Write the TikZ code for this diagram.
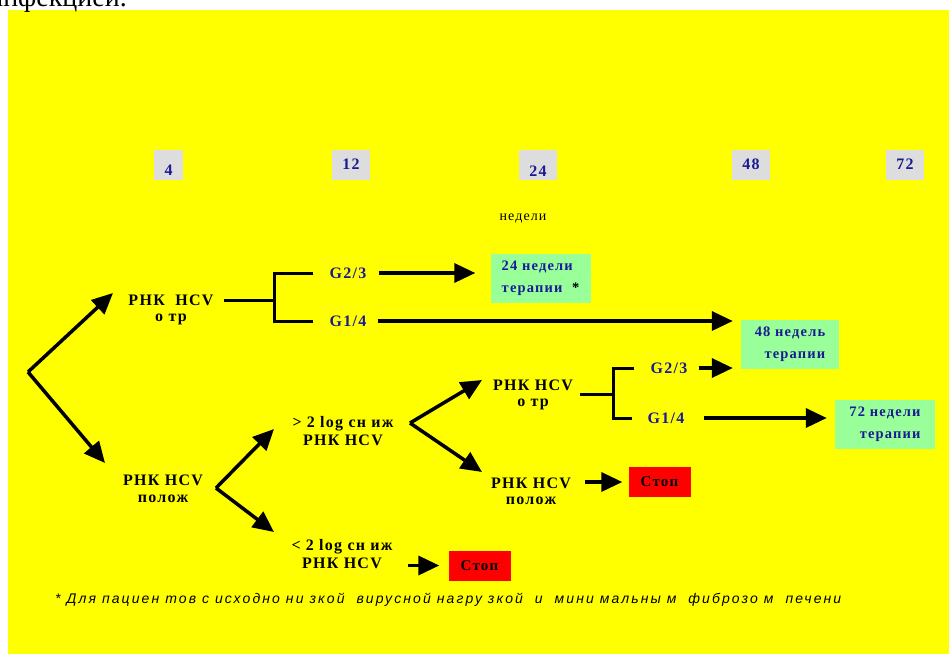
\documentclass[tikz,border=0pt]{standalone}
\usepackage{fontspec}
\setmainfont{Liberation Serif}
\setsansfont{Liberation Sans}
\newfontfamily\spacedserif[LetterSpace=8]{Liberation Serif}
\newfontfamily\spacedsans[LetterSpace=15]{Liberation Sans}
\usetikzlibrary{arrows.meta}
\definecolor{bgyellow}{RGB}{255,255,0}
\definecolor{weekgrey}{RGB}{221,221,221}
\definecolor{therapygreen}{RGB}{153,255,153}
\definecolor{stopred}{RGB}{255,0,0}
\definecolor{labelblue}{RGB}{26,26,150}

\begin{document}
\begin{tikzpicture}[x=1pt, y=-1pt,
    arr/.style={-{Triangle[length=21pt,width=19pt]}, line width=3.5pt},
    bracket/.style={line width=3pt},
    txt/.style={font=\spacedserif\bfseries\fontsize{16}{16}\selectfont, align=center, inner sep=0pt},
    geno/.style={txt, text=labelblue},
    week/.style={fill=weekgrey, minimum width=38pt, minimum height=30pt, inner sep=0pt, text=labelblue, font=\spacedserif\bfseries\fontsize{16}{16}\selectfont},
    therapy/.style={fill=therapygreen, minimum width=100pt, minimum height=49pt, inner sep=0pt, text=labelblue, font=\spacedserif\bfseries\fontsize{14.5}{22}\selectfont},
    stopbox/.style={fill=stopred, minimum width=62pt, minimum height=30pt, inner sep=0pt, font=\spacedserif\bfseries\fontsize{15}{16}\selectfont}]
    % Page and background
    \useasboundingbox (0,0) rectangle (949,654);
    \fill[bgyellow] (8,10) rectangle (949,654);
    \node[anchor=base east, inner sep=0pt, font=\fontsize{28}{30}\selectfont] (head) at (127,6) {инфекцией.};

    % Weeks
    \node[week, minimum width=29pt] (w4) at (168.5,165) {\raisebox{-10pt}[0pt][0pt]{4}};
    \node[week] (w12) at (351,164.5) {12};
    \node[week] (w24) at (538,165) {\raisebox{-11pt}[0pt][0pt]{24}};
    \node[week] (w48) at (751,164.5) {48};
    \node[week] (w72) at (905,164.5) {72};
    \node[font=\spacedserif\fontsize{14}{15}\selectfont, inner sep=0pt] (weeks) at (523,219) {недели};

    % Start of the scheme
    \coordinate (root) at (28,372);
    \coordinate (up1) at (113,293);
    \coordinate (dn1) at (105,463);
    \draw[arr] (root) -- (up1);
    \draw[arr] (root) -- (dn1);

    % Negative at week 4
    \node[txt] (neg1) at (171,310) {РНК\ \ HCV\\о тр};
    \coordinate (fork1) at (274,300);
    \node[geno] (g23a) at (348,273) {G2/3};
    \node[geno] (g14a) at (348,321) {G1/4};
    \node[therapy, align=left] (t24) at (540.5,278.5) {24 недели\\терапии\ \ {\color{black}*}};
    \node[therapy, minimum width=98pt, align=right] (t48) at (790,344.5) {48 недель\\терапии};
    \draw[bracket] ([xshift=10pt]neg1.east |- fork1) -- (fork1);
    \draw[bracket] ([xshift=-16pt]g23a.west) -| (fork1) |- ([xshift=-16pt]g14a.west);
    \draw[arr, shorten >=15pt] ([xshift=12pt]g23a.east) -- (t24.west |- g23a.east);
    \draw[arr, shorten >=8pt] ([xshift=11pt]g14a.east) -- (t48.west |- g14a.east);

    % Positive at week 4
    \node[txt] (pos1) at (163,489) {РНК HCV\\[1pt]полож};
    \coordinate (fork2) at (216,488);
    \coordinate (up2) at (274,429);
    \coordinate (dn2) at (274,532);
    \draw[arr] (fork2) -- (up2);
    \draw[arr] (fork2) -- (dn2);
    \node[txt] (drop) at (343,431) {> 2 log сн иж\\[2pt]РНК HCV};
    \node[txt] (nodrop) at (342,554) {< 2 log сн иж\\[2pt]РНК HCV};
    \node[stopbox] (stop2) at (479.5,565.5) {Стоп};
    \draw[arr, shorten >=9pt] ([xshift=15pt]nodrop.east |- stop2) -- (stop2);

    % Result at week 12
    \coordinate (fork3) at (410,423);
    \coordinate (up3) at (482,380);
    \coordinate (dn3) at (482,472);
    \draw[arr] (fork3) -- (up3);
    \draw[arr] (fork3) -- (dn3);
    \node[txt] (neg2) at (533,395) {РНК HCV\\о тр};
    \node[txt] (pos2) at (531,491) {РНК HCV\\полож};
    \node[stopbox] (stop1) at (659.5,482) {Стоп};
    \draw[arr, shorten >=6pt] ([xshift=14pt]pos2.east |- stop1) -- (stop1);

    % Negative at week 12
    \coordinate (fork4) at (613,394);
    \node[geno] (g23b) at (669,368) {G2/3};
    \node[geno] (g14b) at (666,418) {G1/4};
    \node[therapy, align=right] (t72) at (885,424) {72 недели\\терапии};
    \draw[bracket] ([xshift=7pt]neg2.east |- fork4) -- (fork4);
    \draw[bracket] ([xshift=-16pt]g23b.west) -| (fork4) |- ([xshift=-15pt]g14b.west);
    \draw[arr, shorten >=8pt] ([xshift=11pt]g23b.east) -- (t48.west |- g23b.east);
    \draw[arr, shorten >=8pt] ([xshift=19pt]g14b.east) -- (t72.west |- g14b.east);

    % Footnote
    \node[anchor=west, inner sep=0pt, font=\spacedsans\itshape\fontsize{14}{16}\selectfont] (note) at (55,600) {* Для пациен тов с исходно ни зкой\ \ вирусной нагру зкой\ \ и\ \ мини мальны м\ \ фиброзо м\ \ печени};
\end{tikzpicture}
\end{document}
